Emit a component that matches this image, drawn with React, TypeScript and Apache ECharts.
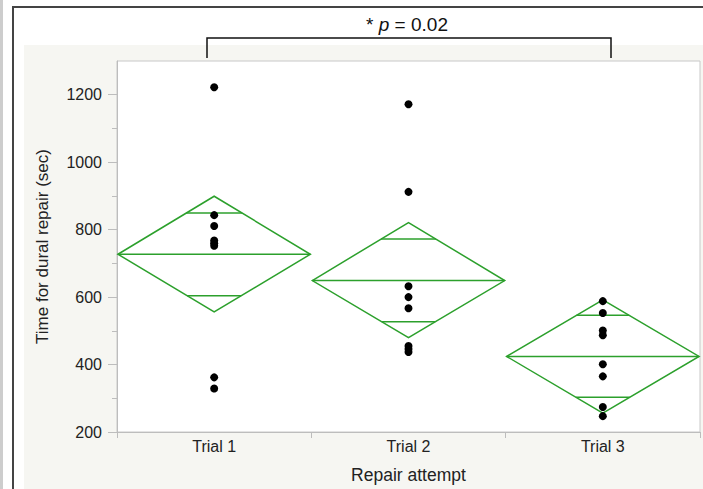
import React, { useEffect, useRef } from "react";
import * as echarts from "echarts";

const categories = ["Trial 1", "Trial 2", "Trial 3"];
const trial1Times = [1222, 843, 811, 768, 760, 752, 362, 329];
const trial2Times = [1172, 912, 632, 600, 567, 455, 446, 437];
const trial3Times = [588, 553, 501, 487, 401, 365, 274, 247];
const groupMeans = [727, 649, 424];
const ciLower = [556, 480, 256];
const ciUpper = [899, 821, 592];
const overlapLower = [604, 527, 303];
const overlapUpper = [849, 772, 546];
const majorTicks = [200, 400, 600, 800, 1000, 1200];
const minorTicks = [300, 500, 700, 900, 1100];
const yMin = 200;
const yMax = 1300;
const pLabel = "0.02";

const GREEN = "#2ca02c";
const FONT = "Liberation Sans, Arial, Helvetica, sans-serif";

export default function App() {
  const ref = useRef<HTMLDivElement>(null);

  useEffect(() => {
    if (!ref.current) return;
    const chart = echarts.init(ref.current, undefined, { renderer: "svg" });

    const points: number[][] = [];
    [trial1Times, trial2Times, trial3Times].forEach((arr, i) => {
      arr.forEach((v) => points.push([i, v]));
    });
    const diamonds = categories.map((_, i) => [
      i,
      groupMeans[i],
      ciLower[i],
      ciUpper[i],
      overlapLower[i],
      overlapUpper[i],
    ]);

    const axisColor = "#bdbdbd";

    chart.setOption({
      animation: false,
      backgroundColor: "#ffffff",
      textStyle: { fontFamily: FONT },
      graphic: {
        elements: [
          { type: "rect", z: -100, shape: { x: 0, y: 0, width: 3, height: 489 }, style: { fill: "#cdcdcd" } },
          { type: "rect", z: -100, shape: { x: 24, y: 45, width: 679, height: 444 }, style: { fill: "#f6f6f2" } },
          { type: "line", z: -50, shape: { x1: 12, y1: 7, x2: 703, y2: 7 }, style: { stroke: "#444", lineWidth: 2 } },
          { type: "line", z: -50, shape: { x1: 13, y1: 7, x2: 13, y2: 489 }, style: { stroke: "#444", lineWidth: 2 } },
          {
            type: "polyline",
            z: 10,
            shape: { points: [[207, 58], [207, 38], [611, 38], [611, 58]] },
            style: { stroke: "#111", lineWidth: 1.5, fill: "none" },
          },
          {
            type: "text",
            z: 10,
            x: 407,
            y: 24,
            style: {
              text: "{n|* }{i|p}{n| = " + pLabel + "}",
              align: "center",
              verticalAlign: "middle",
              rich: {
                n: { fontSize: 19, fontFamily: FONT, fill: "#111" },
                i: { fontSize: 19, fontFamily: FONT, fontStyle: "italic", fill: "#111" },
              },
            },
          },
        ],
      },
      grid: {
        left: 117,
        top: 61,
        right: 3,
        bottom: 54,
        show: true,
        backgroundColor: "#ffffff",
        borderColor: "#c8c8c8",
        borderWidth: 1,
      },
      xAxis: {
        type: "category",
        data: categories,
        boundaryGap: true,
        name: "Repair attempt",
        nameLocation: "middle",
        nameGap: 34,
        nameTextStyle: { fontSize: 17.5, color: "#222", fontFamily: FONT },
        axisLine: { lineStyle: { color: axisColor } },
        axisTick: { show: true, length: 6, lineStyle: { color: axisColor } },
        axisLabel: { fontSize: 16, color: "#222", margin: 6, fontFamily: FONT },
        splitLine: { show: false },
      },
      yAxis: [
        {
          type: "value",
          min: yMin,
          max: yMax,
          interval: 200,
          name: "Time for dural repair (sec)",
          nameLocation: "middle",
          nameGap: 66,
          nameTextStyle: { fontSize: 17, color: "#222", fontFamily: FONT },
          axisLine: { show: true, lineStyle: { color: axisColor } },
          axisTick: { show: true, length: 9, customValues: majorTicks, lineStyle: { color: axisColor } },
          axisLabel: {
            fontSize: 16,
            color: "#222",
            margin: 15,
            customValues: majorTicks,
            fontFamily: FONT,
            formatter: (v: number) => String(v),
          },
          splitLine: { show: false },
        },
        {
          type: "value",
          position: "left",
          min: yMin,
          max: yMax,
          interval: 100,
          axisLine: { show: false },
          axisTick: { show: true, length: 5, customValues: minorTicks, lineStyle: { color: axisColor } },
          axisLabel: { show: false },
          splitLine: { show: false },
        },
      ],
      series: [
        {
          type: "custom",
          z: 2,
          data: diamonds,
          encode: { x: 0, y: [1, 2, 3, 4, 5] },
          renderItem: (params: any, api: any) => {
            const idx = api.value(0);
            const mean = api.value(1);
            const lo = api.value(2);
            const hi = api.value(3);
            const olo = api.value(4);
            const ohi = api.value(5);
            const c = api.coord([idx, mean]);
            const top = api.coord([idx, hi])[1];
            const bot = api.coord([idx, lo])[1];
            const yo1 = api.coord([idx, ohi])[1];
            const yo2 = api.coord([idx, olo])[1];
            const half = api.size([1, 0])[0] * 0.495;
            const w1 = (half * (yo1 - top)) / (c[1] - top);
            const w2 = (half * (bot - yo2)) / (bot - c[1]);
            const st = { stroke: GREEN, lineWidth: 1.5, fill: "none" };
            return {
              type: "group",
              children: [
                {
                  type: "polygon",
                  shape: { points: [[c[0] - half, c[1]], [c[0], top], [c[0] + half, c[1]], [c[0], bot]] },
                  style: st,
                },
                { type: "line", shape: { x1: c[0] - half, y1: c[1], x2: c[0] + half, y2: c[1] }, style: st },
                { type: "line", shape: { x1: c[0] - w1, y1: yo1, x2: c[0] + w1, y2: yo1 }, style: st },
                { type: "line", shape: { x1: c[0] - w2, y1: yo2, x2: c[0] + w2, y2: yo2 }, style: st },
              ],
            };
          },
        },
        {
          type: "scatter",
          z: 5,
          data: points,
          symbol: "circle",
          symbolSize: 8,
          itemStyle: { color: "#000", opacity: 1 },
        },
      ],
    });

    return () => chart.dispose();
  }, []);

  return (
    <div
      ref={ref}
      style={{ position: "fixed", left: 0, top: 0, width: 703, height: 489 }}
    />
  );
}
